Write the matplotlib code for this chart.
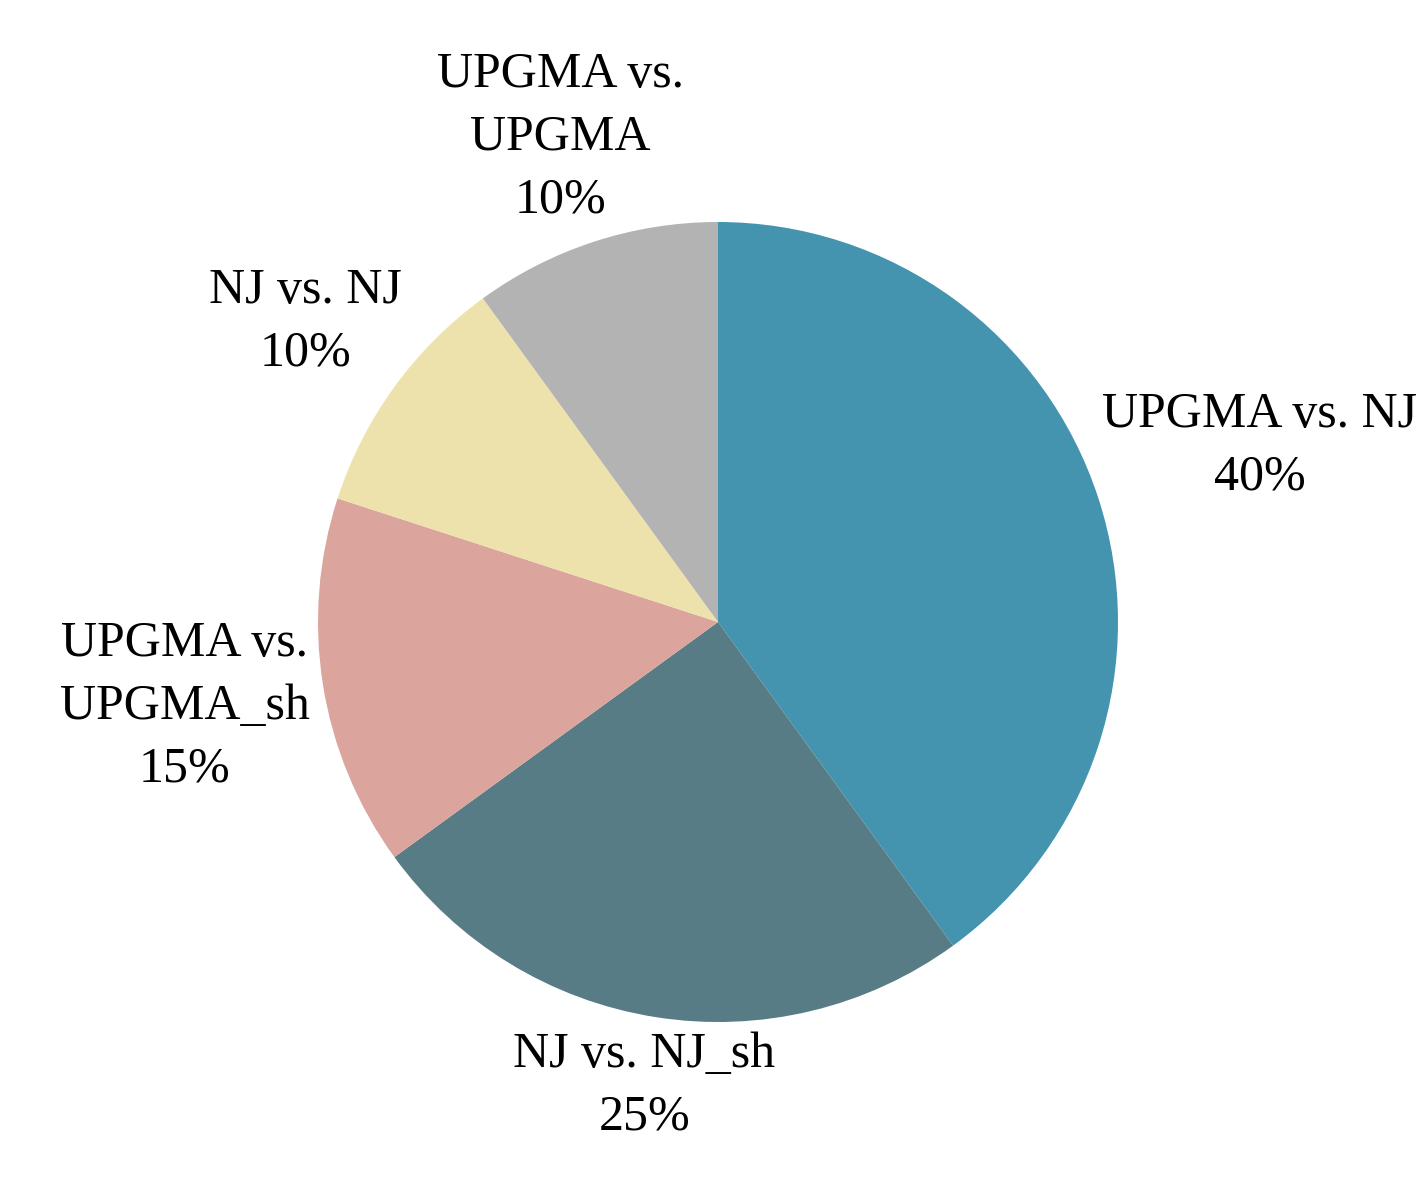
import numpy as np
import matplotlib.pyplot as plt

# Dados do gráfico
categorias = ['UPGMA vs. NJ', 'NJ vs. NJ_sh', 'UPGMA vs.\nUPGMA_sh', 'NJ vs. NJ', 'UPGMA vs.\nUPGMA']
valores = [40, 25, 15, 10, 10]
cores = ['#4494B0', '#587C85', '#DBA49C', '#EEE2AC', '#B3B3B3']

# Figura em pixels (1424 x 1202)
fig = plt.figure(figsize=(14.24, 12.02), dpi=100)
ax = fig.add_axes([0, 0, 1, 1])

centro = (718, 580)
raio = 400
wedges, _ = ax.pie(valores, colors=cores, startangle=90, counterclock=False,
                   center=centro, radius=raio, frame=True)
ax.set_xlim(0, 1424)
ax.set_ylim(0, 1202)
ax.set_aspect('equal')
ax.axis('off')

# Rótulos fora da pizza, encostados no círculo
fig.canvas.draw()
renderer = fig.canvas.get_renderer()
total = sum(valores)
for w, nome, v in zip(wedges, categorias, valores):
    ang = np.deg2rad((w.theta1 + w.theta2) / 2)
    c, s = np.cos(ang), np.sin(ang)
    t = ax.text(0, 0, f"{nome}\n{v / total:.0%}", ha='center', va='center',
                multialignment='center', family='Liberation Serif', fontsize=36,
                linespacing=1.45)
    bb = t.get_window_extent(renderer)
    a, b = bb.width / 2, 0.8 * bb.height / 2
    d = raio + 6 + abs(c) * a + abs(s) * b
    t.set_position((centro[0] + d * c, centro[1] + d * s))

fig.savefig('out.png', dpi=100)
